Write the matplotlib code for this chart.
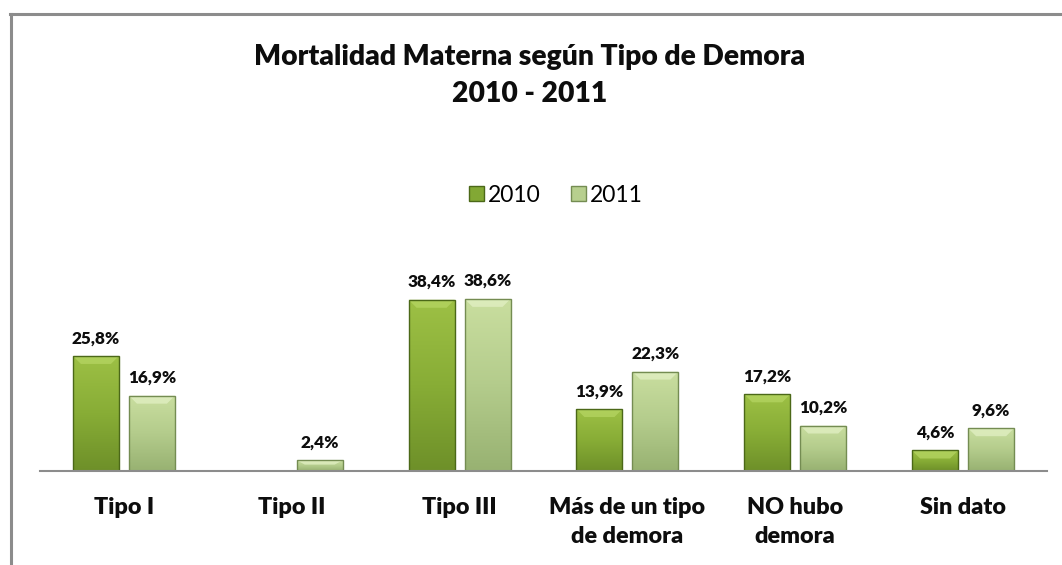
import matplotlib
matplotlib.use("Agg")
import matplotlib.pyplot as plt
import numpy as np
from matplotlib.patches import Patch, Polygon
from matplotlib.lines import Line2D
from matplotlib.colors import LinearSegmentedColormap

plt.rcParams['font.family'] = ['Lato', 'DejaVu Sans']

categories = ["Tipo I", "Tipo II", "Tipo III", "Más de un tipo\nde demora", "NO hubo\ndemora", "Sin dato"]
series_names = ["2010", "2011"]
values_2010 = [25.8, np.nan, 38.4, 13.9, 17.2, 4.6]
values_2011 = [16.9, 2.4, 38.6, 22.3, 10.2, 9.6]
labels_2010 = ["25,8%", "", "38,4%", "13,9%", "17,2%", "4,6%"]
labels_2011 = ["16,9%", "2,4%", "38,6%", "22,3%", "10,2%", "9,6%"]

W, H = 1062, 565
fig = plt.figure(figsize=(W / 100, H / 100), dpi=100)

# outer frame (top + left visible)
fig.add_artist(Line2D([10 / W, 1.0], [1 - 13.5 / H, 1 - 13.5 / H], color="#8c8c8c", lw=2.2))
fig.add_artist(Line2D([10.5 / W, 10.5 / W], [0, 1 - 13.5 / H], color="#8c8c8c", lw=2.2))

ax_left, ax_right, ax_base, ax_top = 40, 1047, 471, 240
ax = fig.add_axes([ax_left / W, (H - ax_base) / H, (ax_right - ax_left) / W, (ax_base - ax_top) / H])
ax.set_xlim(-0.5, len(categories) - 0.5)
ax.set_ylim(0, 51.8)
for s in ["top", "right", "left"]:
    ax.spines[s].set_visible(False)
ax.spines["bottom"].set_color("#8c8c8c")
ax.spines["bottom"].set_linewidth(1.5)
ax.spines["bottom"].set_zorder(3)
ax.set_yticks([])
ax.tick_params(axis="x", length=0, pad=19)
x = np.arange(len(categories))
ax.set_xticks(x)
ax.set_xticklabels(categories, fontsize=16.8, fontweight="heavy", linespacing=1.42, color="#0d0d0d")

px_x = (len(categories)) / (ax_right - ax_left)   # data units per pixel (x)
px_y = 51.8 / (ax_base - ax_top)                   # data units per pixel (y)
bw = 46 * px_x
gap = 10 * px_x
offs = [-(bw + gap) / 2, (bw + gap) / 2]

cmaps = [LinearSegmentedColormap.from_list("a", ["#6e9029", "#88ad36", "#9dc045"]),
         LinearSegmentedColormap.from_list("b", ["#98b272", "#b4cc8c", "#c9de9f"])]
bevel_colors = ["#b5d562", "#e2f0c4"]
facecolors = ["#82a834", "#b7cf8e"]
edgecolors = ["#4b6818", "#748c52"]

for si, (vals, labs) in enumerate([(values_2010, labels_2010), (values_2011, labels_2011)]):
    bars = ax.bar(x + offs[si], vals, bw, color=facecolors[si], edgecolor="none", zorder=2)
    for b, v, lab in zip(bars, vals, labs):
        if np.isnan(v):
            continue
        x0, y0 = b.get_x(), b.get_y()
        w, h = b.get_width(), b.get_height()
        grad = np.linspace(1, 0, 64).reshape(-1, 1)
        im = ax.imshow(grad, extent=[x0, x0 + w, y0, y0 + h], aspect="auto",
                       cmap=cmaps[si], zorder=2.5, interpolation="bicubic")
        im.set_clip_path(b)
        bh = min(8 * px_y, h * 0.4)
        d = 8 * px_x
        ax.add_patch(Polygon([(x0, y0 + h), (x0 + w, y0 + h), (x0 + w - d, y0 + h - bh), (x0 + d, y0 + h - bh)],
                             closed=True, facecolor=bevel_colors[si], edgecolor="none", alpha=0.75, zorder=2.6))
        ax.add_patch(plt.Rectangle((x0, y0), w, h, fill=False, edgecolor=edgecolors[si], lw=1.0, zorder=2.7))
        ax.annotate(lab, (x0 + w / 2, y0 + h), xytext=(0, 7), textcoords="offset points",
                    ha="center", va="bottom", fontsize=12.3, fontweight="heavy", color="#0d0d0d")

fig.text(530 / W, 1 - 57 / H, "Mortalidad Materna según Tipo de Demora", ha="center", va="center",
         fontsize=20.3, fontweight="heavy", color="#0d0d0d")
fig.text(530 / W, 1 - 94 / H, "2010 - 2011", ha="center", va="center",
         fontsize=20.3, fontweight="heavy", color="#0d0d0d")

handles = [Patch(facecolor=facecolors[0], edgecolor=edgecolors[0]),
           Patch(facecolor=facecolors[1], edgecolor=edgecolors[1])]
fig.legend(handles, series_names, loc="center", bbox_to_anchor=(556 / W, 1 - 195 / H), ncol=2,
           frameon=False, fontsize=16.5, handlelength=0.65, handleheight=0.65, handletextpad=0.2,
           columnspacing=1.3)

fig.savefig("out.png", dpi=100)
